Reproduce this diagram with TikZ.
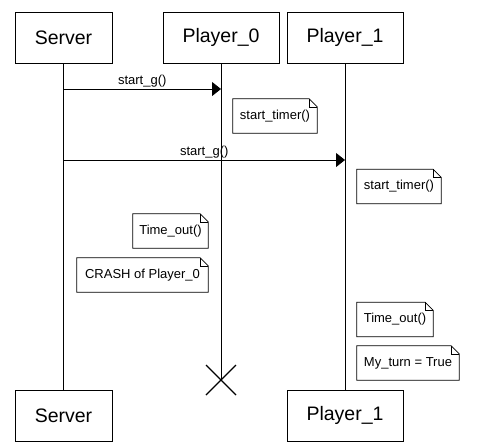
\documentclass[tikz,border=0pt]{standalone}
\usepackage{fontspec}
\setmainfont{Liberation Sans}
\usetikzlibrary{arrows.meta}

\tikzset{
  actor/.style={draw, line width=0.8pt, minimum height=51pt, inner sep=0pt,
                font=\fontsize{19.5}{22}\selectfont},
  note/.style={minimum height=34pt, inner sep=0pt,
               font=\fontsize{13}{15}\selectfont},
  msg/.style={line width=0.8pt, -{Triangle[length=9pt,width=14pt]}},
  life/.style={line width=0.8pt}
}
\newcommand{\foldnote}[1]{%
  \draw[line width=0.8pt] (#1.south west) -- (#1.north west)
    -- ([xshift=-8pt]#1.north east) -- ([yshift=-8pt]#1.north east)
    -- (#1.south east) -- cycle;
  \draw[line width=0.6pt] ([xshift=-8pt]#1.north east) |- ([yshift=-8pt]#1.north east);}

\begin{document}
\begin{tikzpicture}[x=1pt,y=-1pt]
\useasboundingbox (0,0) rectangle (480,447);

\draw (63.5, 37.5) node[actor, minimum width=97pt] (srvtop) {Server};
\draw (221, 37.5) node[actor, minimum width=116pt] (p0top) {Player\_0};
\draw (345, 37.5) node[actor, minimum width=116pt] (p1top) {Player\_1};
\draw (63.5, 415.5) node[actor, minimum width=97pt] (srvbot) {Server};
\draw (345, 415.5) node[actor, minimum width=116pt] (p1bot) {Player\_1};
\coordinate (p0x) at (221, 380);

\draw[life] (srvtop) -- (srvbot);
\draw[life] (p1top) -- (p1bot);
\draw[life] (p0top) -- (p0x);
\draw[line width=1.2pt] (p0x) ++(-15,-15) -- ++(30,30);
\draw[line width=1.2pt] (p0x) ++(-15,15) -- ++(30,-30);

\draw[msg] (srvtop |- 0,89) -- (p0top |- 0,89)
  node[midway, above, inner sep=1.5pt, font=\fontsize{13}{15}\selectfont] (lbl1) {start\_g()};
\draw[msg] (srvtop |- 0,160) -- (p1top |- 0,160)
  node[midway, above, inner sep=1.5pt, font=\fontsize{13}{15}\selectfont] (lbl2) {start\_g()};

\draw (275, 116) node[note, minimum width=84pt] (tim0) {start\_timer()};
\draw (399, 186.5) node[note, minimum width=84pt] (tim1) {start\_timer()};
\draw (170.5, 231) node[note, minimum width=75pt] (out0) {Time\_out()};
\draw (142.5, 275) node[note, minimum width=131pt] (crash) {CRASH of Player\_0};
\draw (395, 319.5) node[note, minimum width=76pt] (out1) {Time\_out()};
\draw (408, 363) node[note, minimum width=102pt] (turn) {My\_turn = True};
\foldnote{tim0}
\foldnote{tim1}
\foldnote{out0}
\foldnote{crash}
\foldnote{out1}
\foldnote{turn}
\end{tikzpicture}
\end{document}
